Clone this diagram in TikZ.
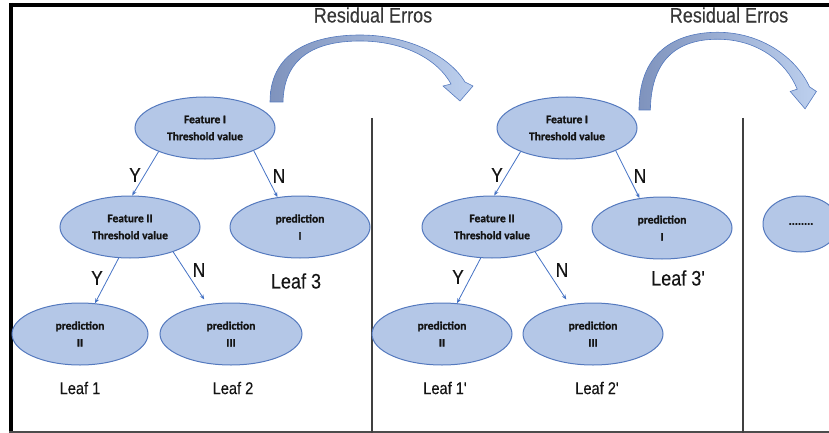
\documentclass[tikz,border=0pt]{standalone}
\usepackage{fontspec}
\setmainfont{Liberation Sans}
\newfontfamily\lblfont{Liberation Sans}[FakeBold=0.3]
\newfontfamily\ellfont{Carlito}[BoldFeatures={FakeBold=1.2}]
\usetikzlibrary{shapes.geometric,arrows.meta}
\definecolor{ellfill}{HTML}{B4C7E7}
\definecolor{elldraw}{HTML}{5479BE}
\definecolor{arrblue}{HTML}{4472C4}
\definecolor{bandL}{HTML}{7F93BD}
\definecolor{bandR}{HTML}{BDD0EE}
\definecolor{txt}{HTML}{141414}
\newcommand{\nar}[1]{\scalebox{0.86}[1]{#1}}
\begin{document}
\begin{tikzpicture}[x=1pt,y=-1pt,
  ell/.style={ellipse, draw=elldraw, line width=1pt, fill=ellfill,
    minimum width=140pt, minimum height=62pt, inner sep=0pt, align=center,
    font=\ellfont\bfseries\fontsize{11.5}{17}\selectfont, text=txt},
  edge/.style={draw=arrblue, line width=0.8pt, -{Stealth[length=5pt,width=4pt]}},
  yn/.style={font=\lblfont\fontsize{20}{22}\selectfont, text=txt, inner sep=0pt},
  leaf/.style={font=\lblfont\fontsize{17}{19}\selectfont, text=txt, inner sep=0pt},
  bigleaf/.style={font=\lblfont\fontsize{21}{23}\selectfont, text=txt, inner sep=0pt},
  ttl/.style={font=\lblfont\fontsize{21}{23}\selectfont, text=txt!85, inner sep=0pt},
  band/.style={left color=bandL, right color=bandR, draw=elldraw, line width=0.6pt},
  sep/.style={draw=black!75, line width=1.2pt}
]
\useasboundingbox (0,0) rectangle (829,433);
% frame
\draw[line width=3.5pt] (9,5) -- (829,5);
\draw[line width=4pt] (11,3) -- (11,433);
\draw[draw=black!70, line width=2pt] (9,432) -- (829,432);
% separators
\draw[sep] (372,118) -- (372,433);
\draw[sep] (743,118) -- (743,433);

% curved arrows
\begin{scope}[shift={(270,102)}]
\path[band] (0,0) .. controls (0,-55) and (50,-67) .. (90,-67)
  .. controls (140,-67) and (180,-45) .. (195,-20) -- (203,-16) -- (190,-1)
  -- (173,-16) -- (181,-18) .. controls (168,-42) and (135,-61) .. (90,-61)
  .. controls (50,-61) and (14,-48) .. (13,0) -- cycle;
\end{scope}
\begin{scope}[shift={(639,110)}, xscale=0.874, yscale=1.16]
\path[band] (0,0) .. controls (0,-55) and (50,-67) .. (90,-67)
  .. controls (140,-67) and (180,-45) .. (195,-20) -- (203,-16) -- (190,-1)
  -- (173,-16) -- (181,-18) .. controls (168,-42) and (135,-61) .. (90,-61)
  .. controls (50,-61) and (14,-48) .. (13,0) -- cycle;
\end{scope}
\node[ttl] (t1) at (373,15) {\nar{Residual Erros}};
\node[ttl] (t2) at (729,15) {\nar{Residual Erros}};

% tree 1
\node[ell] (r1) at (205,128) {Feature I\\Threshold value};
\node[ell] (f1) at (130,227) {Feature II\\Threshold value};
\node[ell] (pa1) at (300,227) {prediction\\I};
\node[ell, minimum width=136pt] (pb1) at (80,334) {prediction\\II};
\node[ell, minimum width=142pt] (pc1) at (231,334) {prediction\\III};
\draw[edge] (r1.207) -- (f1.86);
\draw[edge] (r1.335) -- (pa1.127);
\draw[edge] (f1.250) -- (pb1.64);
\draw[edge] (f1.330) -- ([shift={(-2,-5)}]pc1.130);
\node[yn] (y11) at (135,175) {\nar{Y}};
\node[yn] (n11) at (279,176) {\nar{N}};
\node[yn] (y12) at (97,278) {\nar{Y}};
\node[yn] (n12) at (199,270) {\nar{N}};
\node[bigleaf] (l13) at (296,281) {\nar{Leaf 3}};
\node[leaf] (l11) at (80,388) {\nar{Leaf 1}};
\node[leaf] (l12) at (233,388) {\nar{Leaf 2}};

% tree 2
\node[ell] (r2) at (567,128) {Feature I\\Threshold value};
\node[ell] (f2) at (492,227) {Feature II\\Threshold value};
\node[ell] (pa2) at (662,228) {prediction\\I};
\node[ell] (pb2) at (442,334) {prediction\\II};
\node[ell] (pc2) at (593,334) {prediction\\III};
\draw[edge] (r2.207) -- (f2.86);
\draw[edge] (r2.335) -- (pa2.127);
\draw[edge] (f2.250) -- (pb2.64);
\draw[edge] (f2.330) -- ([shift={(-2,-5)}]pc2.130);
\node[yn] (y21) at (497,175) {\nar{Y}};
\node[yn] (n21) at (640,176) {\nar{N}};
\node[yn] (y22) at (458,277) {\nar{Y}};
\node[yn] (n22) at (562,270) {\nar{N}};
\node[bigleaf] (l23) at (678,278) {\nar{Leaf 3'}};
\node[leaf] (l21) at (445,388) {\nar{Leaf 1'}};
\node[leaf] (l22) at (597,388) {\nar{Leaf 2'}};

% third
\node[ell, minimum width=76pt, minimum height=56pt] (d3) at (801,224) {........};
\end{tikzpicture}
\end{document}
